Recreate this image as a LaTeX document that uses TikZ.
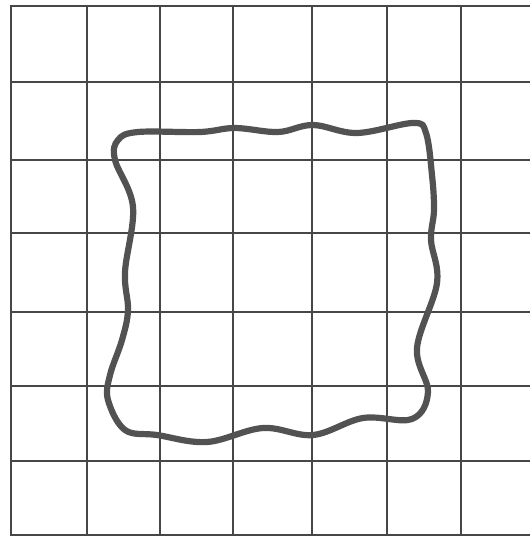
\documentclass[tikz,border=0pt]{standalone}
\usepackage{tikz}

\begin{document}
\begin{tikzpicture}[x=1pt, y=-1pt]
    \tikzstyle{grid_line} = [draw=black!72, line width=1.7]
    \tikzstyle{loop_line} = [draw=black!68, line width=6.2, line join=round]
    \useasboundingbox (0,0) rectangle (530,536);
    \fill[white] (0,0) rectangle (530,536);

    % grid
    \foreach \gx in {11,87,160,233,312,387,461}
        \draw[grid_line] (\gx,5) -- (\gx,536);
    \foreach \gy in {6,82,160,233,312,386,461,535}
        \draw[grid_line] (10,\gy) -- (530,\gy);

    % wobbly loop
    \draw[loop_line] plot[smooth cycle, tension=0.6] coordinates {
        (138,132) (200,132) (235,128) (278,132) (313,125) (357,133)
        (413,123) (426,133) (432,175) (434,210) (431,240) (437,283)
        (417,348) (428,392) (412,419) (363,418) (313,435) (263,428)
        (207,442) (157,435) (125,430) (108,400) (110,375) (122,340)
        (128,310) (125,272) (133,207) (115,160) (118,140)};
\end{tikzpicture}
\end{document}
